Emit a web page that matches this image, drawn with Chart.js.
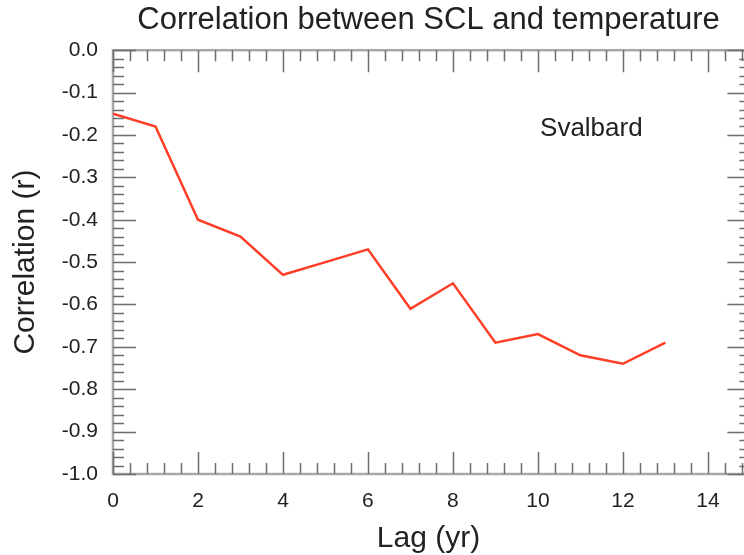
<!DOCTYPE html>
<html>
<head>
<meta charset="utf-8">
<script src="https://cdn.jsdelivr.net/npm/chart.js@4.4.1/dist/chart.umd.min.js"></script>
<style>
  html, body { margin: 0; padding: 0; background: #fff; }
  #wrap { width: 744px; height: 555px; }
</style>
</head>
<body>
<div id="wrap"><canvas id="chart"></canvas></div>
<script>
// lag in years and correlation
const lags = [0, 1, 2, 3, 4, 5, 6, 7, 8, 9, 10, 11, 12, 13];
const corr = [-0.15, -0.18, -0.40, -0.44, -0.53, -0.50, -0.47, -0.61, -0.55, -0.69, -0.67, -0.72, -0.74, -0.69];

const xTickValues = [0, 2, 4, 6, 8, 10, 12, 14];
const yTickValues = [-1.0, -0.9, -0.8, -0.7, -0.6, -0.5, -0.4, -0.3, -0.2, -0.1, 0.0];
const xFullMax = 15;      // the original axis runs to 15, the picture is cut just before
const siteLabel = 'Svalbard';
const siteLabelAt = { x: 10.05, y: -0.185 };

const FONT = '"Liberation Sans", Arial, Helvetica, sans-serif';

// IDL-style ticks pointing into the plot on all four sides
const boxTicks = {
  id: 'boxTicks',
  beforeDatasetsDraw(chart) {
    const { ctx, chartArea: a, scales: { x, y } } = chart;
    const right = x.getPixelForValue(xFullMax);
    ctx.save();
    // frame
    ctx.strokeStyle = '#a8a8a8';
    ctx.lineWidth = 2.5;
    ctx.strokeRect(a.left, a.top, right - a.left, a.bottom - a.top);

    ctx.strokeStyle = '#6e6e6e';
    ctx.lineWidth = 1.5;
    ctx.beginPath();
    // x: major every 2, minor every 0.4
    for (let i = 0; i * 0.4 <= xFullMax + 1e-9; i++) {
      const px = Math.round(x.getPixelForValue(i * 0.4)) + 0.5;
      const len = (i % 5 === 0) ? 22 : 11;
      ctx.moveTo(px, a.bottom); ctx.lineTo(px, a.bottom - len);
      ctx.moveTo(px, a.top); ctx.lineTo(px, a.top + len);
    }
    // y: major every 0.1, minor every 0.02
    for (let i = 0; i <= 50; i++) {
      const py = Math.round(y.getPixelForValue(-1 + i * 0.02)) + 0.5;
      const len = (i % 5 === 0) ? 23 : 11;
      ctx.moveTo(a.left, py); ctx.lineTo(a.left + len, py);
      ctx.moveTo(right, py); ctx.lineTo(right - len, py);
    }
    ctx.stroke();
    ctx.restore();
  },
  afterDatasetsDraw(chart) {
    const { ctx, scales: { x, y } } = chart;
    ctx.save();
    ctx.fillStyle = '#222';
    ctx.font = '26px ' + FONT;
    ctx.textAlign = 'left';
    ctx.textBaseline = 'middle';
    ctx.fillText(siteLabel, x.getPixelForValue(siteLabelAt.x), y.getPixelForValue(siteLabelAt.y));
    ctx.restore();
  }
};

new Chart(document.getElementById('chart'), {
  type: 'line',
  data: {
    datasets: [{
      data: lags.map((l, i) => ({ x: l, y: corr[i] })),
      borderColor: 'rgb(255, 62, 40)',
      backgroundColor: 'rgb(255, 62, 40)',
      borderWidth: 2.5,
      pointRadius: 0,
      tension: 0,
      fill: false
    }]
  },
  options: {
    responsive: true,
    maintainAspectRatio: false,
    animation: false,
    layout: { padding: { left: 0, right: 0, top: 0, bottom: 0 } },
    plugins: {
      legend: { display: false },
      tooltip: { enabled: false },
      title: {
        display: true,
        fullSize: false,
        text: 'Correlation between SCL and temperature',
        color: '#222',
        font: { family: FONT, size: 31, weight: 'normal' },
        padding: { top: 2, bottom: 11 }
      }
    },
    scales: {
      x: {
        type: 'linear',
        min: 0,
        max: 14.85,
        grid: { display: false, drawTicks: false },
        border: { display: false },
        afterBuildTicks: s => { s.ticks = xTickValues.map(v => ({ value: v })); },
        afterFit: s => { s.height = 81; },
        ticks: {
          color: '#222',
          padding: 15,
          maxRotation: 0,
          autoSkip: false,
          font: { family: FONT, size: 21 },
          callback: v => String(v)
        },
        title: {
          display: true,
          text: 'Lag (yr)',
          color: '#222',
          font: { family: FONT, size: 30 },
          padding: { top: 0, bottom: -2 }
        }
      },
      y: {
        type: 'linear',
        min: -1,
        max: 0,
        grid: { display: false, drawTicks: false },
        border: { display: false },
        afterBuildTicks: s => { s.ticks = yTickValues.map(v => ({ value: v })); },
        afterFit: s => { s.width = 113; },
        ticks: {
          color: '#222',
          padding: 15,
          autoSkip: false,
          font: { family: FONT, size: 21 },
          callback: v => v.toFixed(1)
        },
        title: {
          display: true,
          text: 'Correlation (r)',
          color: '#222',
          font: { family: FONT, size: 30 },
          padding: { top: 8, bottom: 0 }
        }
      }
    }
  },
  plugins: [boxTicks]
});
</script>
</body>
</html>
